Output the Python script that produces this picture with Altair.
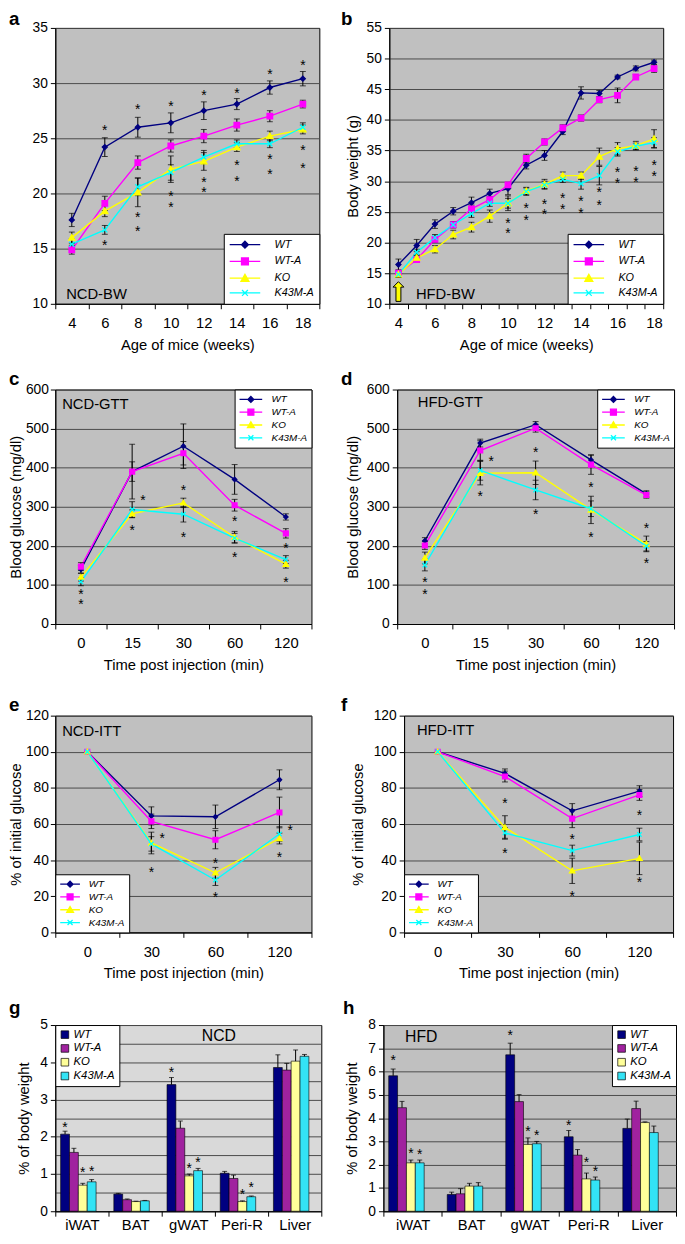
import altair as alt
import pandas as pd

FONT = "Liberation Sans"
SERIES = ["WT", "WT-A", "KO", "K43M-A"]
LINE_COLORS = ["#000080", "#FF00FF", "#FFFF00", "#00FFFF"]
BAR_COLORS = ["#000080", "#A0229F", "#FFFF99", "#33E3F5"]
ORGANS = ["iWAT", "BAT", "gWAT", "Peri-R", "Liver"]

# ---------------- panel a : NCD body weight ----------------
A_X = [4, 6, 8, 10, 12, 14, 16, 18]
A_WT = [17.6, 24.2, 26.0, 26.4, 27.5, 28.1, 29.6, 30.4]
A_WT_E = [0.6, 0.85, 0.9, 0.9, 0.8, 0.5, 0.6, 0.65]
A_WTA = [14.9, 19.1, 22.8, 24.3, 25.2, 26.2, 27.0, 28.1]
A_WTA_E = [0.4, 0.65, 0.6, 0.55, 0.6, 0.55, 0.5, 0.35]
A_KO = [16.0, 18.4, 20.1, 22.2, 22.9, 24.2, 25.2, 25.8]
A_KO_E = [0.5, 0.5, 1.3, 1.2, 0.8, 0.4, 0.45, 0.4]
A_K43 = [15.4, 16.7, 20.6, 21.9, 23.3, 24.5, 24.5, 26.0]
A_K43_E = [0.5, 0.4, 0.8, 0.7, 0.6, 0.35, 0.35, 0.4]
A_STAR_X = [6, 6, 8, 8, 8, 10, 10, 10, 12, 12, 12, 14, 14, 14, 16, 16, 16, 18, 18, 18]
A_STAR_Y = [26.0, 15.6, 27.9, 18.1, 16.9, 28.2, 20.0, 19.0, 29.2, 21.3, 20.4,
            29.4, 22.8, 21.4, 31.1, 23.4, 22.0, 31.9, 24.2, 22.6]

# ---------------- panel b : HFD body weight ----------------
B_X = list(range(4, 19))
B_WT = [16.4, 19.5, 23.0, 25.1, 26.5, 28.0, 28.8, 32.6, 34.2, 38.1, 44.4, 44.3, 47.0, 48.4, 49.4]
B_WT_E = [0.9, 1.0, 0.7, 0.6, 0.9, 0.7, 1.0, 0.6, 0.8, 0.5, 1.0, 0.5, 0.3, 0.4, 0.35]
B_WTA = [15.0, 17.2, 20.5, 22.9, 25.5, 27.0, 29.4, 33.7, 36.4, 38.7, 40.3, 43.3, 44.0, 47.0, 48.35]
B_WTA_E = [0.5, 0.4, 0.5, 0.5, 0.6, 0.5, 0.4, 0.7, 0.5, 0.5, 0.5, 0.5, 1.2, 0.4, 0.6]
B_KO = [14.8, 17.5, 18.9, 21.3, 22.5, 24.3, 26.4, 28.4, 29.5, 30.9, 30.9, 34.0, 35.3, 35.8, 36.9]
B_KO_E = [0.5, 0.5, 0.6, 0.7, 0.8, 1.0, 1.2, 0.6, 0.8, 0.6, 0.6, 1.4, 1.0, 0.7, 1.5]
B_K43 = [14.8, 18.4, 20.8, 22.9, 24.7, 26.4, 26.4, 28.3, 29.4, 30.3, 29.6, 30.9, 34.8, 35.7, 36.3]
B_K43_E = [0.5, 0.5, 0.5, 0.5, 0.6, 0.5, 0.8, 0.6, 0.6, 0.5, 0.9, 1.5, 0.7, 0.5, 0.8]
B_STAR_X = [10, 10, 11, 11, 12, 12, 13, 13, 14, 14, 15, 15, 16, 16, 17, 17, 18, 18]
B_STAR_Y = [23.6, 22.0, 26.1, 24.2, 26.7, 25.2, 27.8, 26.0, 27.3, 25.3, 28.7, 26.6,
            31.9, 30.1, 32.1, 30.4, 33.1, 31.3]
B_ARROW_X = [4]
B_ARROW_Y = [12]

# ---------------- panel c : NCD GTT ----------------
C_X = [0, 15, 30, 60, 120]
C_WT = [140, 390, 455, 370, 274]
C_WT_E = [10, 70, 57, 38, 8]
C_WTA = [147, 390, 437, 304, 232]
C_WTA_E = [10, 25, 30, 15, 12]
C_KO = [120, 282, 310, 222, 153]
C_KO_E = [10, 10, 12, 15, 10]
C_K43 = [108, 293, 281, 220, 165]
C_K43_E = [10, 20, 20, 12, 10]
C_STAR_X = [0, 0, 15, 30, 30, 60, 60, 120, 120]
C_STAR_Y = [84, 58, 247, 350, 229, 270, 180, 201, 115]
C_OSTAR_X = [15]
C_OSTAR_Y = [325]

# ---------------- panel d : HFD GTT ----------------
D_X = [0, 15, 30, 60, 120]
D_WT = [213, 463, 510, 420, 333]
D_WT_E = [8, 10, 8, 12, 8]
D_WTA = [201, 444, 501, 408, 330]
D_WTA_E = [10, 25, 10, 25, 8]
D_KO = [169, 386, 387, 292, 205]
D_KO_E = [15, 30, 30, 35, 20]
D_K43 = [151, 393, 343, 295, 199]
D_K43_E = [15, 25, 25, 20, 12]
D_STAR_X = [0, 0, 15, 30, 30, 60, 60, 120, 120]
D_STAR_Y = [115, 83, 335, 448, 288, 357, 231, 252, 164]
D_OSTAR_X = [15]
D_OSTAR_Y = [425]

# ---------------- panel e : NCD ITT ----------------
E_X = [0, 30, 60, 120]
E_WT = [100, 64.5, 64, 84.5]
E_WT_E = [0, 5, 6.5, 5.5]
E_WTA = [100, 61.5, 51.3, 66.4]
E_WTA_E = [0, 4, 5, 8.5]
E_KO = [100, 49.5, 33, 52]
E_KO_E = [0, 6, 3, 3]
E_K43 = [100, 49, 29, 54.5]
E_K43_E = [0, 4, 3, 4]
E_STAR_X = [30, 60, 60, 120]
E_STAR_Y = [35, 39.8, 21, 43.1]
E_OSTAR_X = [30, 120]
E_OSTAR_Y = [53.6, 58.2]

# ---------------- panel f : HFD ITT ----------------
F_X = [0, 30, 60, 120]
F_WT = [100, 88, 67.3, 78.2]
F_WT_E = [0, 2.5, 4, 3]
F_WTA = [100, 86.3, 63, 76.1]
F_WTA_E = [0, 3, 5, 3]
F_KO = [100, 58.1, 34.1, 41]
F_KO_E = [0, 6.5, 7, 9]
F_K43 = [100, 55.1, 45.3, 54.2]
F_K43_E = [0, 3, 3, 3.5]
F_STAR_X = [30, 30, 60, 60, 120, 120]
F_STAR_Y = [73.5, 45.5, 53.5, 22, 66.7, 29.3]

# ---------------- panel g : NCD organ weights ----------------
G_WT = [2.07, 0.46, 3.40, 1.02, 3.86]
G_WT_E = [0.08, 0.02, 0.19, 0.05, 0.34]
G_WTA = [1.58, 0.31, 2.23, 0.88, 3.79]
G_WTA_E = [0.11, 0.02, 0.19, 0.09, 0.18]
G_KO = [0.70, 0.26, 0.95, 0.26, 4.03]
G_KO_E = [0.05, 0.01, 0.05, 0.02, 0.30]
G_K43 = [0.79, 0.28, 1.09, 0.39, 4.16]
G_K43_E = [0.06, 0.01, 0.06, 0.02, 0.05]
G_STAR_ORGAN = ["iWAT", "iWAT", "iWAT", "gWAT", "gWAT", "gWAT", "Peri-R", "Peri-R"]
G_STAR_SERIES = ["WT", "KO", "K43M-A", "WT", "KO", "K43M-A", "KO", "K43M-A"]
G_STAR_Y = [2.33, 1.12, 1.15, 3.81, 1.25, 1.41, 0.55, 0.73]

# ---------------- panel h : HFD organ weights ----------------
H_WT = [5.82, 0.72, 6.72, 3.20, 3.56]
H_WT_E = [0.29, 0.10, 0.50, 0.27, 0.40]
H_WTA = [4.45, 0.75, 4.71, 2.41, 4.41]
H_WTA_E = [0.27, 0.22, 0.30, 0.24, 0.32]
H_KO = [2.08, 1.08, 2.87, 1.39, 3.81]
H_KO_E = [0.12, 0.12, 0.28, 0.25, 0.03]
H_K43 = [2.08, 1.08, 2.90, 1.34, 3.38]
H_K43_E = [0.12, 0.15, 0.10, 0.13, 0.28]
H_STAR_ORGAN = ["iWAT", "iWAT", "iWAT", "gWAT", "gWAT", "gWAT", "Peri-R", "Peri-R", "Peri-R"]
H_STAR_SERIES = ["WT", "KO", "K43M-A", "WT", "KO", "K43M-A", "WT", "KO", "K43M-A"]
H_STAR_Y = [6.6, 2.61, 2.59, 7.69, 3.59, 3.38, 3.84, 2.23, 1.87]

# marker shapes (normalised SVG paths)
MARKERS = ["M0,-1L1,0L0,1L-1,0Z", "M-1.1,-1.1H1.1V1.1H-1.1Z",
           "M0,-1.2L1.25,0.95H-1.25Z", "M-1,-1L1,1M-1,1L1,-1"]
ARROW = "M0,-2L1.1,-0.9H0.5V2H-0.5V-0.9H-1.1Z"


def legend_shapes(half, k):
    ln = f"M{-half},0H{half}"
    return [
        ln + f"M0,{-k}L{k},0L0,{k}L{-k},0Z",
        ln + f"M{-k},{-k}H{k}V{k}H{-k}Z",
        ln + f"M0,{-k * 1.1}L{k * 1.15},{k * 0.9}H{-k * 1.15}Z",
        ln + f"M{-k * 0.85},{-k * 0.85}L{k * 0.85},{k * 0.85}M{-k * 0.85},{k * 0.85}L{k * 0.85},{-k * 0.85}",
    ]


def letter_title(letter, dx, offset=-6):
    return alt.TitleParams(text=letter, anchor="start", frame="group", fontSize=19,
                           fontWeight="bold", font=FONT, color="black", dx=dx, offset=offset)


def line_panel(letter, dx, xs, vals, errs, ydom, ystep, ytitle, xtitle, label, label_xy,
               orient, leg_font, leg_half, leg_k, sym_off, lab_off, leg_pad, row_pad,
               stars, ostars, size, ytp=6, ylp=3, every=1, arrow=None, msize=20, toff=-6):
    w, h = size
    rows = []
    for s, vl, el in zip(SERIES, vals, errs):
        for x, v, e in zip(xs, vl, el):
            rows.append({"x": x, "series": s, "y": v, "lo": v - e, "hi": v + e})
    df = pd.DataFrame(rows)
    xaxis_kw = dict(title=xtitle, tickBand="extent", labelAngle=0, grid=False,
                    labelPadding=7, titlePadding=7, labelFontSize=15)
    if every > 1:
        xaxis_kw["labelExpr"] = f"datum.value % {every} == 0 ? datum.label : ''"
    xenc = alt.X("x:O", scale=alt.Scale(type="band", paddingInner=0, paddingOuter=0),
                 axis=alt.Axis(**xaxis_kw), bandPosition=0.5)
    yvals = list(range(ydom[0], ydom[1] + 1, ystep))
    yaxis = alt.Axis(title=ytitle, values=yvals, grid=True, titlePadding=ytp, labelPadding=ylp,
                     labelFontSize=14)
    ysc = alt.Scale(domain=ydom, nice=False, zero=False)

    base = alt.Chart(df)
    line = base.mark_line(strokeWidth=1.4).encode(
        x=xenc, y=alt.Y("y:Q", scale=ysc, axis=yaxis),
        color=alt.Color("series:N", scale=alt.Scale(domain=SERIES, range=LINE_COLORS), legend=None),
    )
    eb = base.transform_filter("datum.hi > datum.lo")
    err = eb.mark_rule(color="black", strokeWidth=1).encode(
        x=xenc, y=alt.Y("lo:Q", scale=ysc, axis=yaxis), y2="hi:Q")
    cap_lo = eb.mark_tick(color="black", size=6, thickness=1).encode(
        x=xenc, y=alt.Y("lo:Q", scale=ysc, axis=yaxis))
    cap_hi = eb.mark_tick(color="black", size=6, thickness=1).encode(
        x=xenc, y=alt.Y("hi:Q", scale=ysc, axis=yaxis))
    pts = base.mark_point(filled=True, size=msize, strokeWidth=1.3, opacity=1).encode(
        x=xenc, y=alt.Y("y:Q", scale=ysc, axis=yaxis),
        fill=alt.Fill("series:N", scale=alt.Scale(domain=SERIES, range=LINE_COLORS), legend=None),
        stroke=alt.Stroke("series:N", scale=alt.Scale(domain=SERIES, range=LINE_COLORS), legend=None),
        shape=alt.Shape("series:N", scale=alt.Scale(domain=SERIES, range=MARKERS), legend=None),
    )
    leg = alt.Legend(orient=orient, offset=0, title=None, fillColor="white", strokeColor="black",
                     padding=leg_pad, labelFont=FONT, labelFontSize=leg_font, labelFontStyle="italic",
                     labelColor="black", symbolSize=100, symbolOffset=sym_off, labelOffset=lab_off,
                     rowPadding=row_pad, symbolStrokeWidth=1.3, symbolOpacity=1, cornerRadius=0)
    legl = base.mark_point(filled=True, opacity=0).encode(
        x=xenc, y=alt.Y("y:Q", scale=ysc, axis=yaxis),
        fill=alt.Fill("series:N", scale=alt.Scale(domain=SERIES, range=LINE_COLORS), legend=leg),
        stroke=alt.Stroke("series:N", scale=alt.Scale(domain=SERIES, range=LINE_COLORS), legend=leg),
        shape=alt.Shape("series:N", scale=alt.Scale(domain=SERIES, range=legend_shapes(leg_half, leg_k)),
                        legend=leg),
    )
    sdf = pd.DataFrame({"x": stars[0], "y": stars[1]})
    st = alt.Chart(sdf).mark_text(text="*", fontSize=14, font=FONT, baseline="alphabetic", dy=8,
                                  color="black").encode(x=xenc, y=alt.Y("y:Q", scale=ysc, axis=yaxis))
    layers = [line, err, cap_lo, cap_hi, pts, st]
    if ostars is not None:
        odf = pd.DataFrame({"x": ostars[0], "y": ostars[1]})
        layers.append(alt.Chart(odf).mark_text(text="*", fontSize=14, font=FONT, baseline="alphabetic",
                                               dy=8, dx=11, color="black").encode(
            x=xenc, y=alt.Y("y:Q", scale=ysc, axis=yaxis)))
    if arrow is not None:
        adf = pd.DataFrame({"x": arrow[0], "y": arrow[1]})
        layers.append(alt.Chart(adf).mark_point(shape=ARROW, size=100, filled=True, fill="#FFFF00",
                                                stroke="black", strokeWidth=1, opacity=1).encode(
            x=xenc, y=alt.Y("y:Q", scale=ysc, axis=yaxis)))
    layers.append(legl)
    ann = alt.Chart(pd.DataFrame({"t": [label]})).mark_text(
        align="left", baseline="alphabetic", fontSize=15, font=FONT, color="black").encode(
        text="t:N", x=alt.value(label_xy[0]), y=alt.value(label_xy[1]))
    layers.append(ann)
    return alt.layer(*layers).resolve_scale(
        fill="independent", stroke="independent", shape="independent"
    ).properties(width=w, height=h, title=letter_title(letter, dx, offset=toff),
                 view=alt.ViewBackground(fill="#C0C0C0", stroke="black", strokeWidth=1))


def bar_panel(letter, dx, vals, errs, ymax, gstep, bg, label, label_xy, label_align, orient,
              stars, size, o_pad, o_align, ytp=6):
    w, h = size
    rows = []
    for s, vl, el in zip(SERIES, vals, errs):
        for o, v, e in zip(ORGANS, vl, el):
            rows.append({"organ": o, "genotype": s, "y": v, "hi": v + e})
    df = pd.DataFrame(rows)
    xenc = alt.X("organ:N", sort=ORGANS, scale=alt.Scale(domain=ORGANS, paddingInner=0, paddingOuter=0),
                 axis=alt.Axis(title=None, tickBand="extent", labelAngle=0, grid=False,
                               labelPadding=2, labelFontSize=15))
    xoff = alt.XOffset("genotype:N", scale=alt.Scale(domain=SERIES, paddingInner=0,
                                                      paddingOuter=o_pad, align=o_align))
    n = int(round(ymax / gstep))
    yvals = [round(i * gstep, 2) for i in range(n + 1)]
    yaxis = alt.Axis(title="% of body weight", values=yvals, grid=True, titlePadding=ytp,
                     labelPadding=3, labelFontSize=14,
                     labelExpr="datum.value % 1 == 0 ? format(datum.value, 'd') : ''",
                     tickOpacity={"condition": {"test": "datum.value % 1 == 0", "value": 1}, "value": 0})
    ysc = alt.Scale(domain=[0, ymax], nice=False)
    leg = alt.Legend(orient=orient, offset=0, title=None, fillColor="white", strokeColor="black",
                     padding=4, labelFont=FONT, labelFontSize=11.5, labelFontStyle="italic",
                     labelColor="black", symbolType="square", symbolSize=60, symbolStrokeColor="black",
                     symbolStrokeWidth=0.7, rowPadding=1, labelOffset=3, cornerRadius=0)
    base = alt.Chart(df)
    bars = base.mark_bar(stroke="black", strokeWidth=0.6).encode(
        x=xenc, xOffset=xoff, y=alt.Y("y:Q", scale=ysc, axis=yaxis),
        fill=alt.Fill("genotype:N", scale=alt.Scale(domain=SERIES, range=BAR_COLORS), legend=leg),
    )
    err = base.mark_rule(color="black", strokeWidth=1).encode(
        x=alt.X("organ:N", sort=ORGANS, bandPosition=0.5), xOffset=xoff,
        y=alt.Y("y:Q", scale=ysc, axis=yaxis), y2="hi:Q")
    cap = base.mark_tick(color="black", size=5, thickness=1).encode(
        x=alt.X("organ:N", sort=ORGANS, bandPosition=0.5), xOffset=xoff,
        y=alt.Y("hi:Q", scale=ysc, axis=yaxis))
    sdf = pd.DataFrame({"organ": stars[0], "genotype": stars[1], "y": stars[2]})
    st = alt.Chart(sdf).mark_text(text="*", fontSize=14, font=FONT, baseline="alphabetic", dy=8,
                                  color="black").encode(
        x=alt.X("organ:N", sort=ORGANS, bandPosition=0.5), xOffset=xoff,
        y=alt.Y("y:Q", scale=ysc, axis=yaxis))
    ann = alt.Chart(pd.DataFrame({"t": [label]})).mark_text(
        align=label_align, baseline="alphabetic", fontSize=16, font=FONT, color="black").encode(
        text="t:N", x=alt.value(label_xy[0]), y=alt.value(label_xy[1]))
    return alt.layer(bars, err, cap, st, ann).properties(
        width=w, height=h, title=letter_title(letter, dx, offset=0),
        view=alt.ViewBackground(fill=bg, stroke="black", strokeWidth=1))


pa = line_panel("a", -47, A_X, [A_WT, A_WTA, A_KO, A_K43], [A_WT_E, A_WTA_E, A_KO_E, A_K43_E],
                [10, 35], 5, None, "Age of mice (weeks)", "NCD-BW", (11, 275),
                "bottom-right", 11, 3.1, 0.7, 10.5, 24, 5, 3,
                (A_STAR_X, A_STAR_Y), None, (268, 280), msize=26, toff=-8)
pb = line_panel("b", -49, B_X, [B_WT, B_WTA, B_KO, B_K43], [B_WT_E, B_WTA_E, B_KO_E, B_K43_E],
                [10, 55], 5, "Body weight (g)", "Age of mice (weeks)", "HFD-BW", (27, 275),
                "bottom-right", 11, 3.1, 0.7, 10.5, 24, 5, 3,
                (B_STAR_X, B_STAR_Y), None, (278, 280), ytp=6, every=2,
                arrow=(B_ARROW_X, B_ARROW_Y), msize=26, toff=-8)
pc = line_panel("c", -47, C_X, [C_WT, C_WTA, C_KO, C_K43], [C_WT_E, C_WTA_E, C_KO_E, C_K43_E],
                [0, 600], 100, "Blood glucose (mg/dl)", "Time post injection (min)", "NCD-GTT", (7, 20),
                "top-right", 10, 2.3, 0.6, 6.5, 15, 4, 1,
                (C_STAR_X, C_STAR_Y), (C_OSTAR_X, C_OSTAR_Y), (260, 238), ytp=2, ylp=2)
pd_ = line_panel("d", -57, D_X, [D_WT, D_WTA, D_KO, D_K43], [D_WT_E, D_WTA_E, D_KO_E, D_K43_E],
                 [0, 600], 100, "Blood glucose (mg/dl)", "Time post injection (min)", "HFD-GTT", (21, 18),
                 "top-right", 10, 2.3, 0.6, 6.5, 15, 4, 1,
                 (D_STAR_X, D_STAR_Y), (D_OSTAR_X, D_OSTAR_Y), (281, 238), ytp=6)
pe = line_panel("e", -47, E_X, [E_WT, E_WTA, E_KO, E_K43], [E_WT_E, E_WTA_E, E_KO_E, E_K43_E],
                [0, 120], 20, "% of initial glucose", "Time post injection (min)", "NCD-ITT", (7, 21),
                "bottom-left", 10, 2.0, 0.6, 5, 13, 4, 1,
                (E_STAR_X, E_STAR_Y), (E_OSTAR_X, E_OSTAR_Y), (260, 220), ytp=2, ylp=2)
pf = line_panel("f", -64, F_X, [F_WT, F_WTA, F_KO, F_K43], [F_WT_E, F_WTA_E, F_KO_E, F_K43_E],
                [0, 120], 20, "% of initial glucose", "Time post injection (min)", "HFD-ITT", (13, 20),
                "bottom-left", 10, 2.0, 0.6, 5, 13, 4, 1,
                (F_STAR_X, F_STAR_Y), None, (273, 220), ytp=8)
pg = bar_panel("g", -47, [G_WT, G_WTA, G_KO, G_K43], [G_WT_E, G_WTA_E, G_KO_E, G_K43_E],
               5, 0.5, "#D9D9D9", "NCD", (166, 16), "center", "top-left",
               (G_STAR_ORGAN, G_STAR_SERIES, G_STAR_Y), (270, 189), 1.0, 0.3, ytp=8)
ph = bar_panel("h", -41, [H_WT, H_WTA, H_KO, H_K43], [H_WT_E, H_WTA_E, H_KO_E, H_K43_E],
               8, 1, "#C0C0C0", "HFD", (22, 17), "left", "top-right",
               (H_STAR_ORGAN, H_STAR_SERIES, H_STAR_Y), (297, 189), 0.64, 0.47, ytp=8)

row1 = alt.hconcat(pa, pb, spacing=20)
row2 = alt.hconcat(pc, pd_, spacing=28)
row3 = alt.hconcat(pe, pf, spacing=28)
row4 = alt.hconcat(pg, ph, spacing=20)

top12 = alt.vconcat(row1, row2, spacing=16)
top123 = alt.vconcat(top12, row3, spacing=22)
chart = alt.vconcat(top123, row4, spacing=17).properties(
    padding={"left": 0, "top": -8, "right": 0, "bottom": 0}
).configure_axis(
    labelFont=FONT, titleFont=FONT, labelFontSize=15, titleFontSize=15, labelColor="black",
    titleColor="black", domainColor="black", tickColor="black", gridColor="#4a4a4a",
    gridWidth=1, tickSize=5, titleFontWeight="normal"
).configure_text(font=FONT).configure_legend(labelFont=FONT)

chart.save("out.html", embed_options={"renderer": "svg", "actions": False})
